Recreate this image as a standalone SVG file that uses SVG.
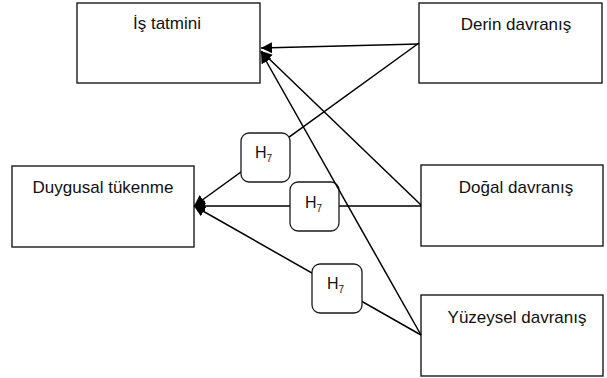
<svg xmlns="http://www.w3.org/2000/svg" width="607" height="378" viewBox="0 0 607 378">
<style>
.box{fill:#fff;stroke:#1a1a1a;stroke-width:1.4}
.lbl{fill:#fff;stroke:#1a1a1a;stroke-width:1.3}
.t{font-family:"Liberation Sans",Arial,sans-serif;font-size:17px;fill:#111;text-anchor:middle}
.h{font-family:"Liberation Sans",Arial,sans-serif;font-size:16px;fill:#111}
.c{stroke:#000;stroke-width:1.5;fill:none}
.a{marker-end:url(#arr)}
</style>
<defs>
<marker id="arr" viewBox="0 0 10 10" refX="10" refY="5" markerWidth="11" markerHeight="12" markerUnits="userSpaceOnUse" orient="auto">
<path d="M0,0 L10,5 L0,10 z" fill="#000"/>
</marker>
</defs>
<g id="is-tatmini"><rect class="box" x="77" y="3" width="183" height="80"/><text class="t" x="167" y="29">İş tatmini</text></g>
<g id="derin-davranis"><rect class="box" x="419" y="3" width="183" height="80"/><text class="t" x="516" y="30">Derin davranış</text></g>
<g id="duygusal-tukenme"><rect class="box" x="12" y="166" width="182" height="81"/><text class="t" x="103" y="193">Duygusal tükenme</text></g>
<g id="dogal-davranis"><rect class="box" x="421" y="165" width="182" height="81"/><text class="t" x="516" y="193">Doğal davranış</text></g>
<g id="yuzeysel-davranis"><rect class="box" x="421" y="295" width="182" height="81"/><text class="t" x="517" y="323">Yüzeysel davranış</text></g>
<g id="connectors">
<line class="c a" x1="419" y1="43" x2="194" y2="206"/>
<line class="c a" x1="421" y1="206" x2="194" y2="206"/>
<line class="c a" x1="421" y1="335" x2="194" y2="206"/>
<g id="h7-1"><rect class="lbl" x="241" y="133" width="49" height="49" rx="8"/><text class="h" x="255" y="158">H<tspan font-size="10" dy="4">7</tspan></text></g>
<g id="h7-2"><rect class="lbl" x="290" y="182" width="49" height="49" rx="8"/><text class="h" x="305" y="208">H<tspan font-size="10" dy="4">7</tspan></text></g>
<g id="h7-3"><rect class="lbl" x="312" y="264" width="50" height="49" rx="8"/><text class="h" x="327" y="289">H<tspan font-size="10" dy="4">7</tspan></text></g>
<line class="c a" x1="419" y1="44" x2="261" y2="48"/>
<line class="c a" x1="421" y1="205" x2="261" y2="51"/>
<line class="c a" x1="421" y1="335" x2="261" y2="52"/>
</g>
</svg>
